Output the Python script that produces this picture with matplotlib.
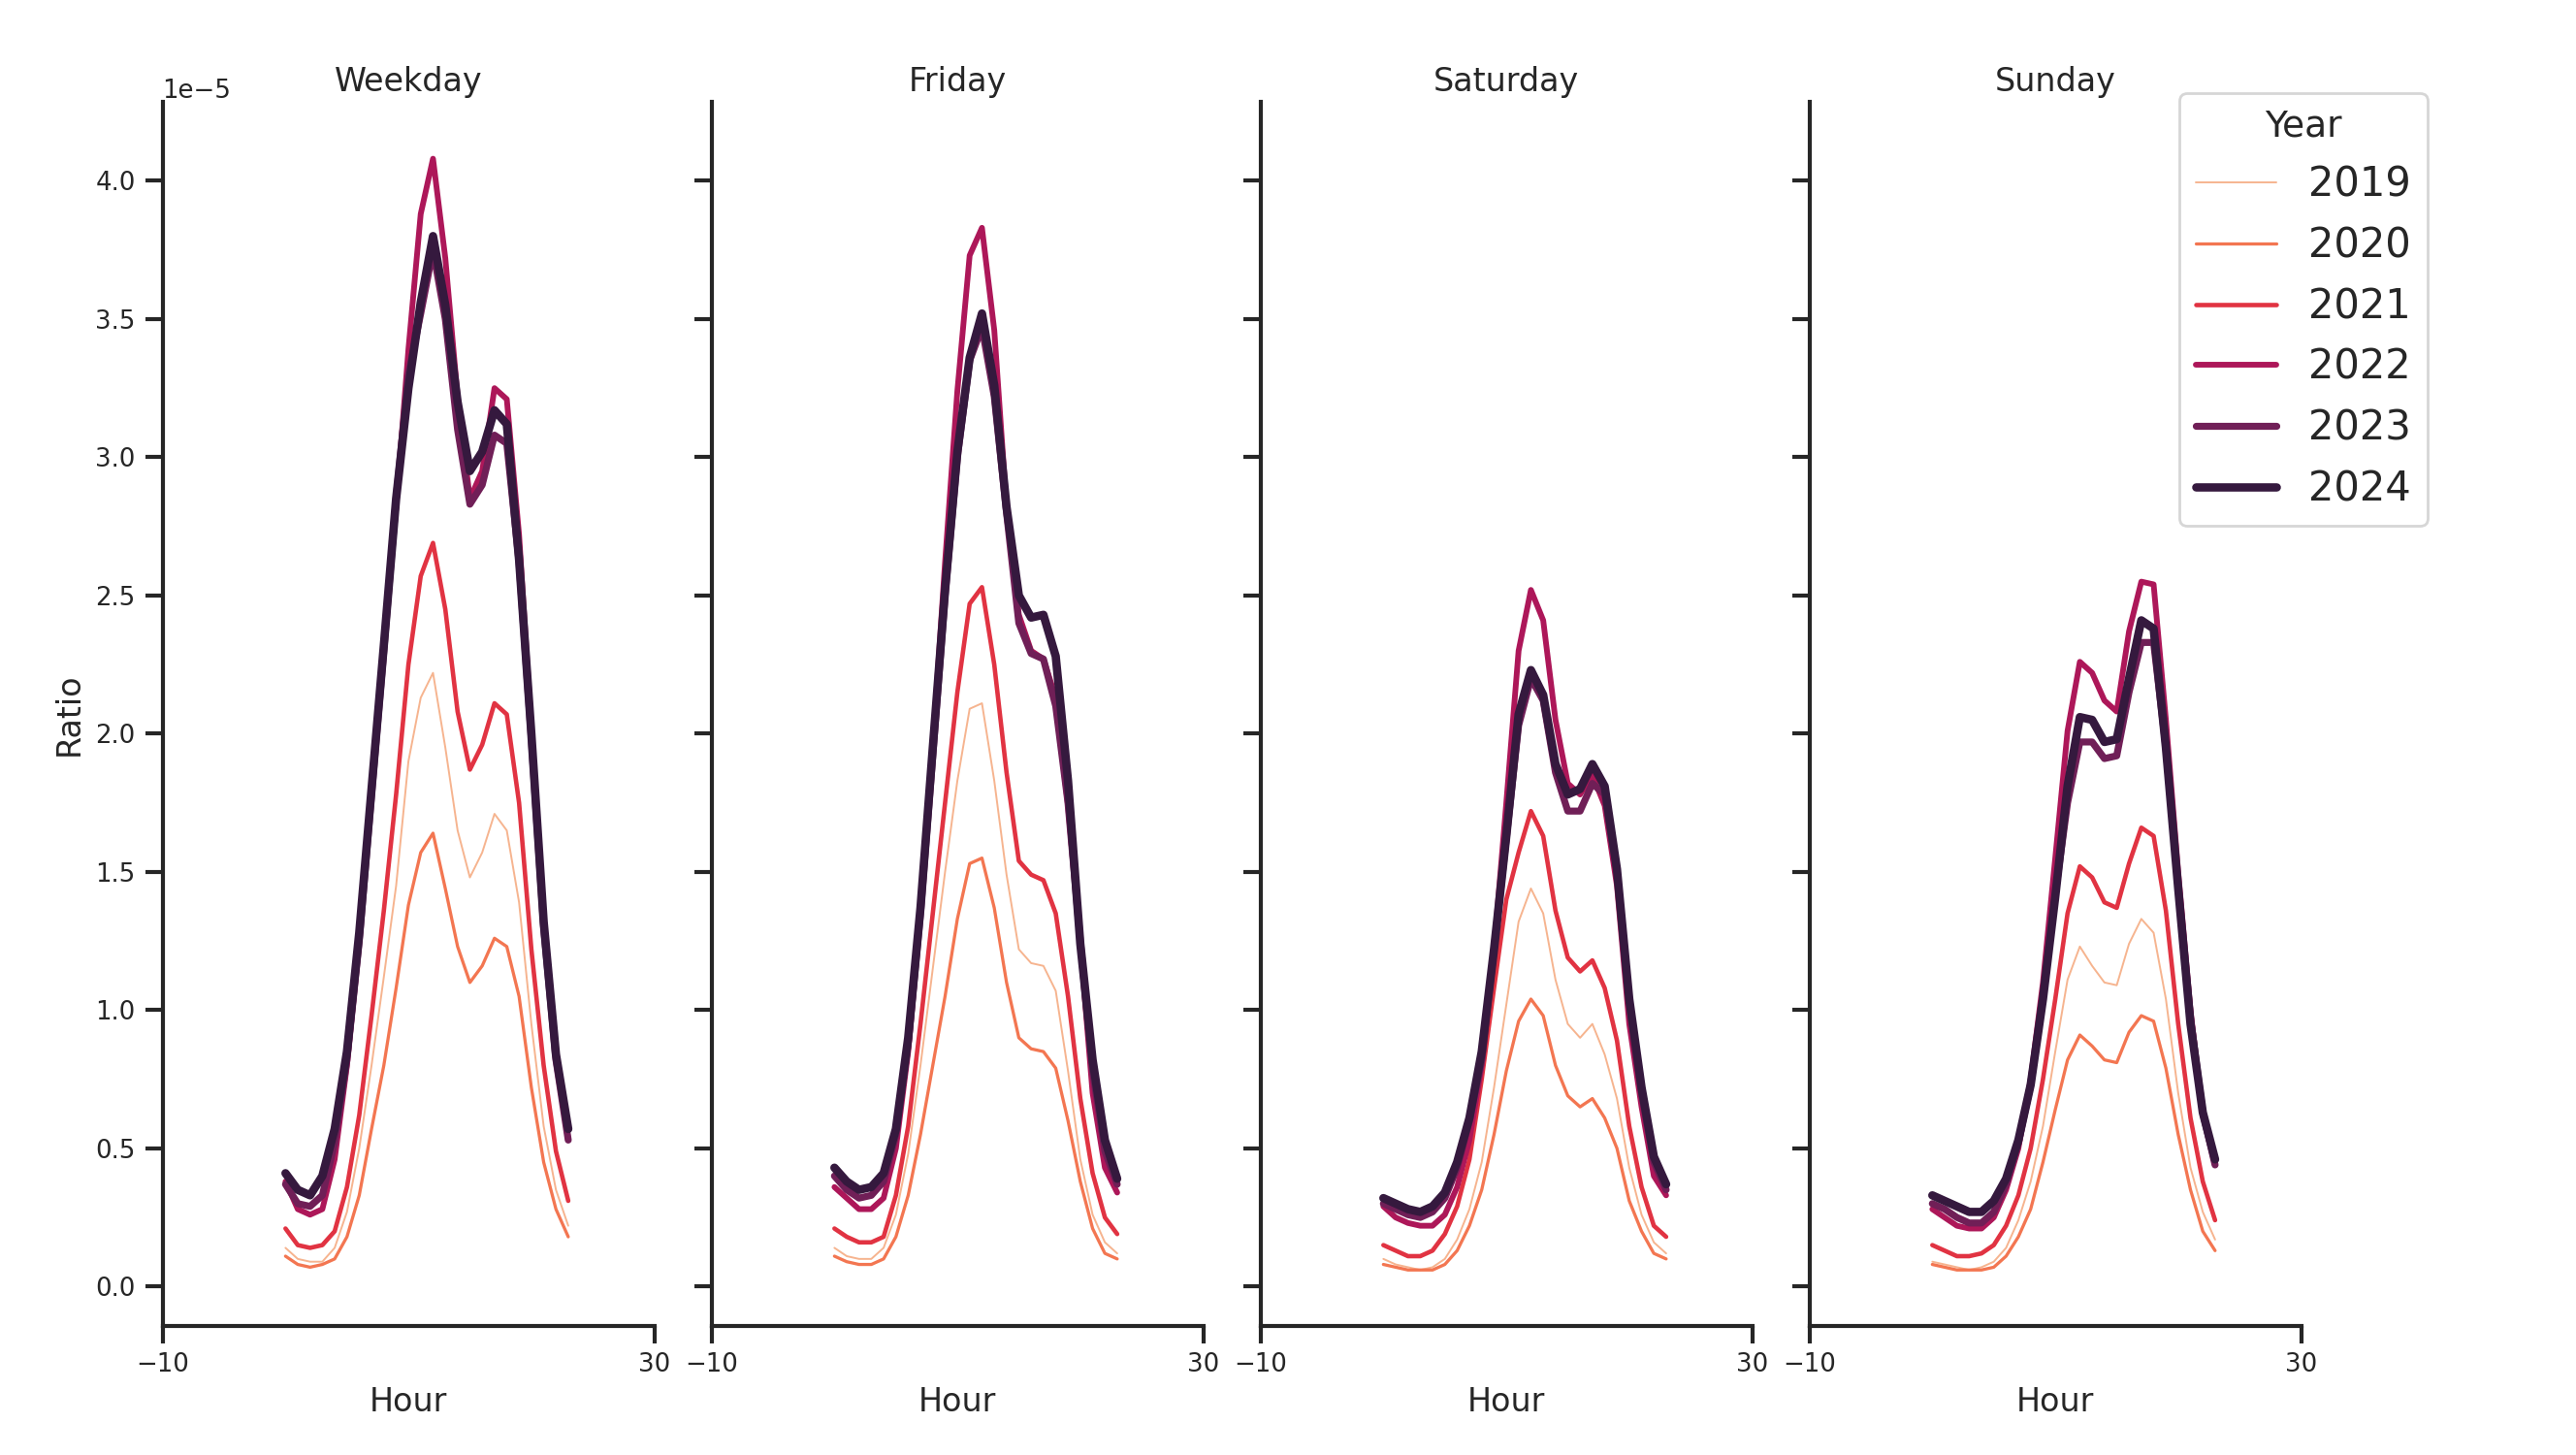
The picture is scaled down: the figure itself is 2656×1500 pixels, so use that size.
import numpy as np
import matplotlib.pyplot as plt

# hourly ratio (x 1e-5) per year, one list per year for each day type
hours = list(range(24))
years = ['2019', '2020', '2021', '2022', '2023', '2024']
day_types = ['Weekday', 'Friday', 'Saturday', 'Sunday']

weekday = [
    [0.14, 0.10, 0.09, 0.09, 0.14, 0.27, 0.50, 0.80, 1.12, 1.45, 1.90, 2.13, 2.22, 1.95, 1.65, 1.48, 1.57, 1.71, 1.65, 1.39, 0.95, 0.58, 0.35, 0.22],
    [0.11, 0.08, 0.07, 0.08, 0.10, 0.18, 0.33, 0.57, 0.80, 1.08, 1.38, 1.57, 1.64, 1.44, 1.23, 1.10, 1.16, 1.26, 1.23, 1.05, 0.72, 0.45, 0.28, 0.18],
    [0.21, 0.15, 0.14, 0.15, 0.20, 0.36, 0.62, 0.98, 1.36, 1.78, 2.25, 2.57, 2.69, 2.45, 2.08, 1.87, 1.96, 2.11, 2.07, 1.75, 1.22, 0.80, 0.49, 0.31],
    [0.38, 0.28, 0.26, 0.28, 0.46, 0.80, 1.25, 1.80, 2.30, 2.82, 3.39, 3.88, 4.08, 3.72, 3.22, 2.85, 2.95, 3.25, 3.21, 2.72, 2.02, 1.32, 0.83, 0.53],
    [0.37, 0.30, 0.29, 0.33, 0.52, 0.82, 1.25, 1.78, 2.30, 2.85, 3.30, 3.52, 3.75, 3.50, 3.10, 2.83, 2.90, 3.08, 3.05, 2.62, 1.98, 1.30, 0.82, 0.53],
    [0.41, 0.35, 0.33, 0.40, 0.57, 0.85, 1.28, 1.80, 2.32, 2.85, 3.25, 3.56, 3.80, 3.55, 3.20, 2.95, 3.02, 3.17, 3.12, 2.63, 2.00, 1.32, 0.84, 0.57],
]
friday = [
    [0.14, 0.11, 0.10, 0.10, 0.14, 0.26, 0.48, 0.80, 1.15, 1.50, 1.83, 2.09, 2.11, 1.83, 1.49, 1.22, 1.17, 1.16, 1.07, 0.78, 0.46, 0.26, 0.16, 0.12],
    [0.11, 0.09, 0.08, 0.08, 0.10, 0.18, 0.33, 0.55, 0.80, 1.05, 1.33, 1.53, 1.55, 1.37, 1.10, 0.90, 0.86, 0.85, 0.79, 0.60, 0.38, 0.21, 0.12, 0.10],
    [0.21, 0.18, 0.16, 0.16, 0.18, 0.33, 0.58, 0.95, 1.35, 1.75, 2.15, 2.47, 2.53, 2.25, 1.86, 1.54, 1.49, 1.47, 1.35, 1.05, 0.68, 0.41, 0.25, 0.19],
    [0.36, 0.32, 0.28, 0.28, 0.32, 0.50, 0.85, 1.35, 1.95, 2.62, 3.24, 3.73, 3.83, 3.46, 2.82, 2.43, 2.30, 2.27, 2.13, 1.74, 1.24, 0.70, 0.43, 0.34],
    [0.40, 0.35, 0.32, 0.33, 0.38, 0.55, 0.88, 1.35, 1.92, 2.50, 3.00, 3.35, 3.47, 3.22, 2.80, 2.40, 2.29, 2.27, 2.10, 1.75, 1.25, 0.78, 0.49, 0.37],
    [0.43, 0.38, 0.35, 0.36, 0.41, 0.57, 0.90, 1.37, 1.95, 2.52, 3.02, 3.36, 3.52, 3.26, 2.82, 2.50, 2.42, 2.43, 2.28, 1.83, 1.24, 0.82, 0.53, 0.39],
]
saturday = [
    [0.10, 0.08, 0.07, 0.06, 0.07, 0.10, 0.17, 0.28, 0.45, 0.72, 1.02, 1.32, 1.44, 1.35, 1.11, 0.95, 0.90, 0.95, 0.84, 0.68, 0.43, 0.26, 0.16, 0.12],
    [0.08, 0.07, 0.06, 0.06, 0.06, 0.08, 0.13, 0.22, 0.35, 0.55, 0.78, 0.96, 1.04, 0.98, 0.80, 0.69, 0.65, 0.68, 0.61, 0.50, 0.31, 0.20, 0.12, 0.10],
    [0.15, 0.13, 0.11, 0.11, 0.13, 0.19, 0.29, 0.46, 0.75, 1.08, 1.40, 1.57, 1.72, 1.63, 1.36, 1.19, 1.14, 1.18, 1.08, 0.89, 0.58, 0.36, 0.22, 0.18],
    [0.29, 0.25, 0.23, 0.22, 0.22, 0.26, 0.36, 0.53, 0.80, 1.22, 1.75, 2.30, 2.52, 2.41, 2.05, 1.82, 1.78, 1.85, 1.74, 1.45, 0.95, 0.65, 0.40, 0.33],
    [0.30, 0.28, 0.26, 0.25, 0.27, 0.32, 0.43, 0.60, 0.82, 1.22, 1.62, 2.03, 2.20, 2.12, 1.86, 1.72, 1.72, 1.82, 1.78, 1.50, 1.03, 0.70, 0.45, 0.35],
    [0.32, 0.30, 0.28, 0.27, 0.29, 0.34, 0.45, 0.61, 0.85, 1.22, 1.63, 2.07, 2.23, 2.14, 1.89, 1.78, 1.80, 1.89, 1.81, 1.51, 1.04, 0.72, 0.47, 0.37],
]
sunday = [
    [0.09, 0.08, 0.07, 0.06, 0.07, 0.09, 0.14, 0.24, 0.38, 0.58, 0.85, 1.11, 1.23, 1.16, 1.10, 1.09, 1.24, 1.33, 1.28, 1.04, 0.70, 0.43, 0.27, 0.17],
    [0.08, 0.07, 0.06, 0.06, 0.06, 0.07, 0.11, 0.18, 0.28, 0.45, 0.64, 0.82, 0.91, 0.87, 0.82, 0.81, 0.92, 0.98, 0.96, 0.79, 0.55, 0.35, 0.20, 0.13],
    [0.15, 0.13, 0.11, 0.11, 0.12, 0.15, 0.22, 0.33, 0.50, 0.75, 1.04, 1.35, 1.52, 1.48, 1.39, 1.37, 1.53, 1.66, 1.63, 1.36, 0.95, 0.61, 0.38, 0.24],
    [0.28, 0.25, 0.22, 0.21, 0.21, 0.25, 0.35, 0.50, 0.75, 1.10, 1.55, 2.01, 2.26, 2.22, 2.12, 2.08, 2.37, 2.55, 2.54, 2.05, 1.50, 1.00, 0.62, 0.44],
    [0.30, 0.28, 0.25, 0.23, 0.23, 0.27, 0.37, 0.52, 0.73, 1.05, 1.42, 1.75, 1.97, 1.97, 1.91, 1.92, 2.15, 2.33, 2.33, 1.95, 1.45, 0.97, 0.63, 0.44],
    [0.33, 0.31, 0.29, 0.27, 0.27, 0.31, 0.39, 0.53, 0.73, 1.04, 1.41, 1.81, 2.06, 2.05, 1.97, 1.98, 2.20, 2.41, 2.38, 1.95, 1.44, 0.95, 0.63, 0.46],
]

colors = ['#f6b48f', '#f37651', '#e13342', '#ad1759', '#701f57', '#35193e']
widths = [1.4, 2.35, 3.3, 4.25, 5.2, 6.2]

ink = '#262626'
plt.rcParams.update({
    'font.family': 'DejaVu Sans',
    'text.color': ink,
    'axes.labelcolor': ink,
    'axes.edgecolor': ink,
    'xtick.color': ink,
    'ytick.color': ink,
    'axes.linewidth': 3.0,
    'xtick.major.size': 13, 'ytick.major.size': 13,
    'xtick.major.width': 3.0, 'ytick.major.width': 3.0,
    'xtick.major.pad': 7, 'ytick.major.pad': 7,
    'xtick.labelsize': 18.7, 'ytick.labelsize': 18.7,
    'axes.labelsize': 24, 'axes.titlesize': 24,
})

fig = plt.figure(figsize=(26.56, 15.0), dpi=100)

axes = []
for i, (name, data) in enumerate(zip(day_types, [weekday, friday, saturday, sunday])):
    ax = fig.add_axes([0.0631 + i * 0.2131, 0.0889, 0.1909, 0.8411],
                      sharey=axes[0] if axes else None)
    for row, c, lw, yr in zip(data, colors, widths, years):
        ax.plot(hours, np.array(row) * 1e-5, color=c, lw=lw, label=yr,
                solid_capstyle='round')
    ax.set_title(name, pad=8)
    ax.set_xlim(-10, 30)
    ax.set_xticks([-10, 30])
    ax.set_xlabel('Hour', labelpad=6.5)
    ax.spines['top'].set_visible(False)
    ax.spines['right'].set_visible(False)
    if i == 0:
        ax.set_ylabel('Ratio', labelpad=7.5)
        ax.set_yticks(np.arange(0, 4.01, 0.5) * 1e-5)
        ax.set_ylim(-0.1414e-5, 4.2856e-5)
    else:
        ax.tick_params(labelleft=False)
        ax.yaxis.offsetText.set_visible(False)
    axes.append(ax)

handles, labels = axes[0].get_legend_handles_labels()
leg = fig.legend(handles, labels, title='Year', loc='upper right',
                 bbox_to_anchor=(0.9424, 0.936), borderaxespad=0,
                 fontsize=30, title_fontsize=27, edgecolor='0.8')
leg.get_frame().set_linewidth(2)

fig.savefig('out.png', dpi=100)
